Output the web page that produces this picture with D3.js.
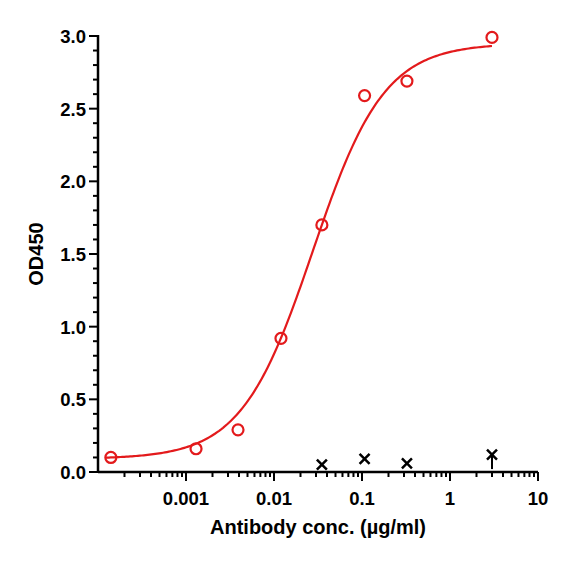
<!DOCTYPE html>
<html><head><meta charset="utf-8">
<script src="https://cdn.jsdelivr.net/npm/d3@7"></script>
<style>body{margin:0;background:#fff}</style>
</head><body><div id="chart"></div>
<script>
// measured points
var sampleConc = [0.00014, 0.0013, 0.0039, 0.012, 0.035, 0.107, 0.324, 3.0];
var sampleOD = [0.10, 0.16, 0.29, 0.92, 1.70, 2.59, 2.69, 2.99];
var controlConc = [0.035, 0.107, 0.324, 3.0];
var controlOD = [0.05, 0.09, 0.06, 0.12];
var controlErr = [0, 0, 0, 0.10];
// 4PL fit parameters: bottom, top, EC50, hill
var fitParams = [0.09, 2.95, 0.0276, 1.07];
var xTickLabels = ["0.001", "0.01", "0.1", "1", "10"];

function draw() {
    var w = 577, h = 562;
    var svg = d3.select("#chart").append("svg").attr("width", w).attr("height", h)
        .style("font-family", "Liberation Sans, Arial, sans-serif");

    var x = d3.scaleLog().domain([1e-4, 10]).range([98, 538]);
    var y = d3.scaleLinear().domain([0, 3]).range([472, 36]);

    // x axis with log minor ticks
    var gx = svg.append("g").attr("transform", "translate(0,472)");
    gx.append("line").attr("x1", 98).attr("x2", 538).attr("stroke", "#000").attr("stroke-width", 2.5);
    var minor = [];
    for (var e = -4; e < 1; e++)
        for (var k = 2; k <= 9; k++) minor.push(k * Math.pow(10, e));
    gx.selectAll(".mn").data(minor).enter().append("line")
        .attr("x1", d => x(d)).attr("x2", d => x(d)).attr("y1", 0).attr("y2", 5)
        .attr("stroke", "#000").attr("stroke-width", 2);
    var majors = xTickLabels.map(Number);
    gx.selectAll(".mj").data(majors).enter().append("line")
        .attr("x1", d => x(d)).attr("x2", d => x(d)).attr("y1", 0).attr("y2", 9)
        .attr("stroke", "#000").attr("stroke-width", 2);
    gx.selectAll("text").data(xTickLabels).enter().append("text")
        .attr("x", d => x(+d)).attr("y", 33).attr("text-anchor", "middle")
        .attr("font-size", 18.5).attr("font-weight", "bold").text(d => d);

    // y axis
    var gy = svg.append("g").attr("transform", "translate(98,0)");
    gy.append("line").attr("y1", 35).attr("y2", 473).attr("stroke", "#000").attr("stroke-width", 2.5);
    var yt = d3.range(0, 31).map(d => d / 10);
    gy.selectAll(".yt").data(yt).enter().append("line")
        .attr("y1", d => y(d)).attr("y2", d => y(d))
        .attr("x1", (d, i) => i % 5 == 0 ? -9 : -5).attr("x2", 0)
        .attr("stroke", "#000").attr("stroke-width", 2);
    gy.selectAll("text").data(yt.filter((d, i) => i % 5 == 0)).enter().append("text")
        .attr("x", -12).attr("y", d => y(d) + 7).attr("text-anchor", "end")
        .attr("font-size", 18.5).attr("font-weight", "bold").text(d => d.toFixed(1));

    // axis titles
    svg.append("text").attr("x", 318).attr("y", 534).attr("text-anchor", "middle")
        .attr("font-size", 20).attr("font-weight", "bold").text("Antibody conc. (µg/ml)");
    svg.append("text").attr("transform", "translate(43,254) rotate(-90)").attr("text-anchor", "middle")
        .attr("font-size", 20).attr("font-weight", "bold").text("OD450");

    // fitted curve
    var f = c => fitParams[0] + (fitParams[1] - fitParams[0]) / (1 + Math.pow(fitParams[2] / c, fitParams[3]));
    var cs = d3.range(0, 201).map(i => Math.pow(10, Math.log10(0.00012) + i * (Math.log10(3.0) - Math.log10(0.00012)) / 200));
    svg.append("path").datum(cs)
        .attr("d", d3.line().x(d => x(d)).y(d => y(f(d))))
        .attr("fill", "none").attr("stroke", "#e31a1c").attr("stroke-width", 2.2);

    svg.selectAll(".pt").data(sampleConc).enter().append("circle")
        .attr("cx", d => x(d)).attr("cy", (d, i) => y(sampleOD[i])).attr("r", 5.5)
        .attr("fill", "none").attr("stroke", "#e31a1c").attr("stroke-width", 2.2);

    // control error bars and crosses
    controlConc.forEach(function(c, i) {
        if (controlErr[i] > 0)
            svg.append("line").attr("x1", x(c)).attr("x2", x(c))
                .attr("y1", y(controlOD[i])).attr("y2", y(controlOD[i] - controlErr[i]))
                .attr("stroke", "#000").attr("stroke-width", 2);
        var cx = x(c), cy = y(controlOD[i]), s = 5;
        svg.append("path").attr("d", "M" + (cx - s) + "," + (cy - s) + "L" + (cx + s) + "," + (cy + s) +
            "M" + (cx - s) + "," + (cy + s) + "L" + (cx + s) + "," + (cy - s))
            .attr("stroke", "#000").attr("stroke-width", 2.5);
    });
}
window.onload = draw;
</script></body></html>
